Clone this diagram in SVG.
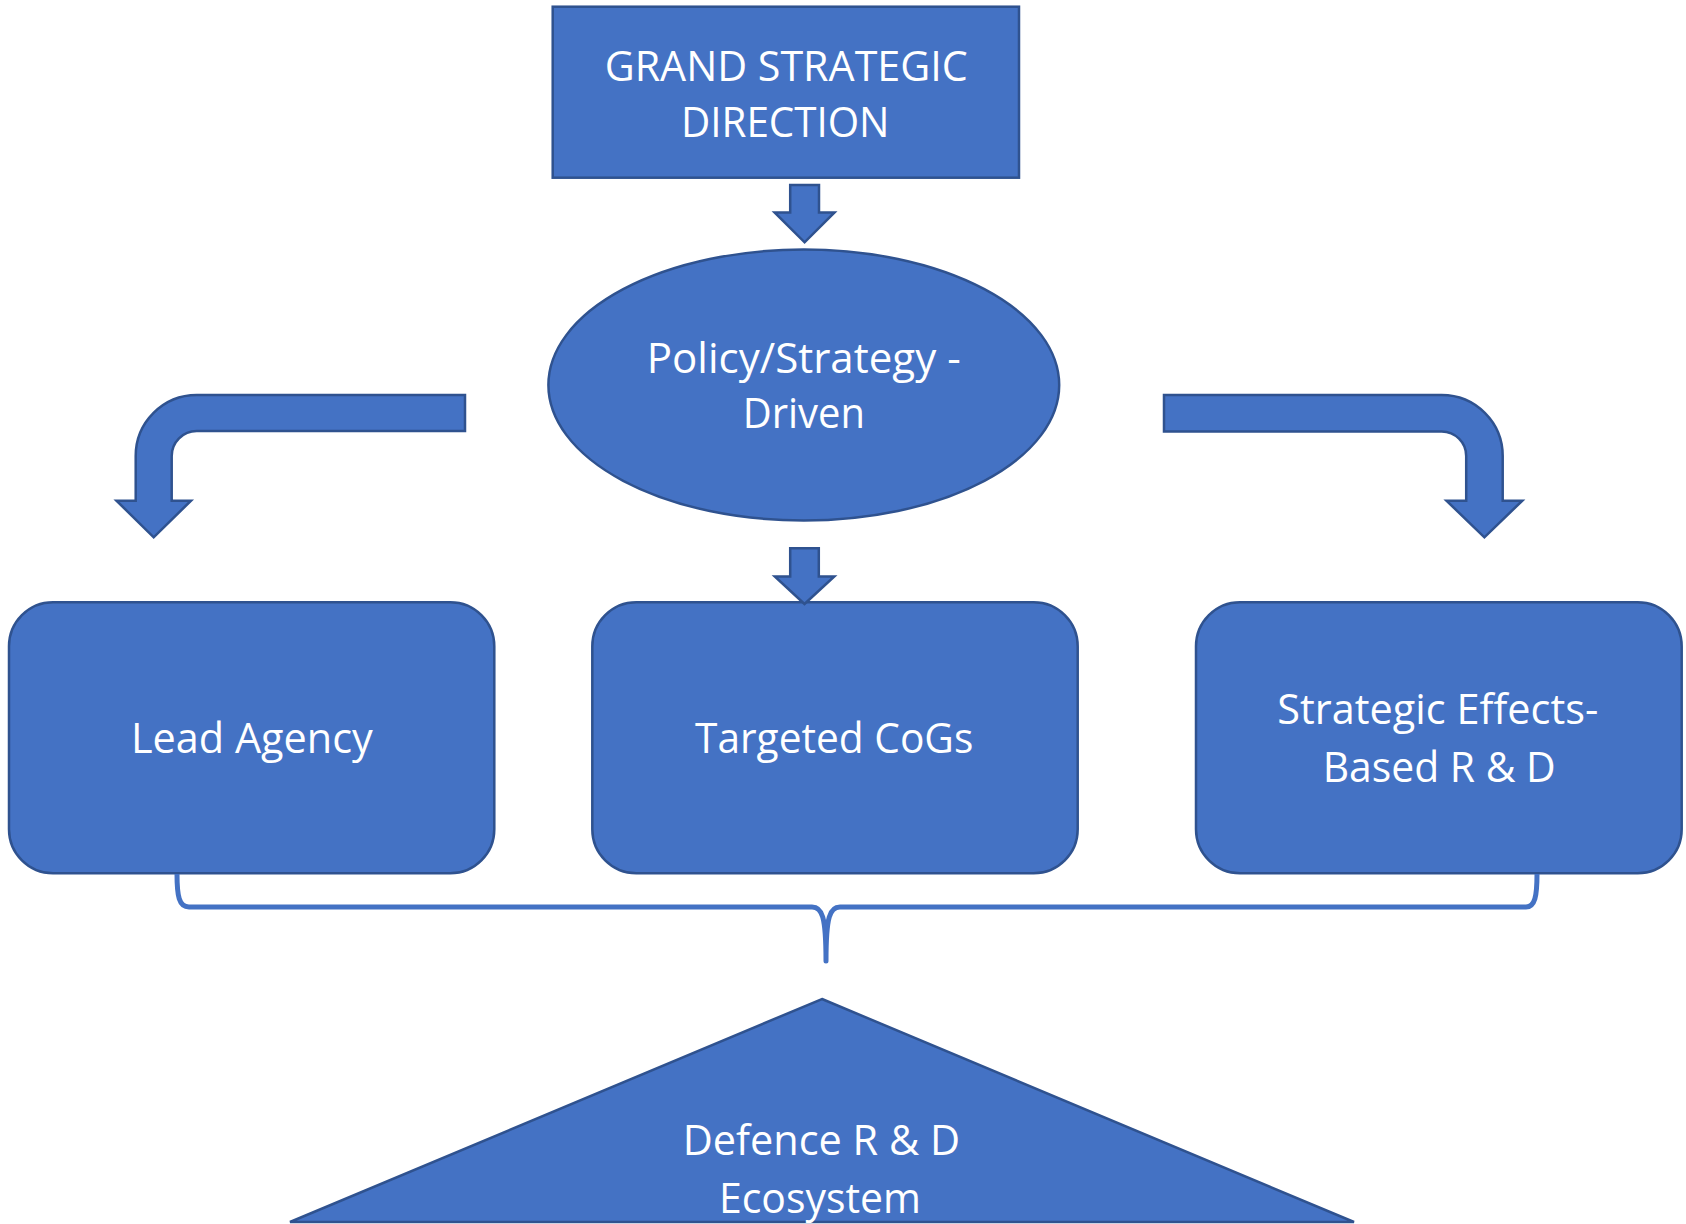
<svg xmlns="http://www.w3.org/2000/svg" width="1686" height="1224" viewBox="0 0 1686 1224">
<style>
.shape{fill:#4472C4;stroke:#2F528F;stroke-width:2.5;stroke-linejoin:miter}
.lbl{fill:#FFFFFF;font-family:"Open Sans","Noto Sans","Liberation Sans",sans-serif;font-size:42px}
.brace{fill:none;stroke:#4472C4;stroke-width:5;stroke-linecap:butt;stroke-linejoin:round}
</style>
<rect width="1686" height="1224" fill="#FFFFFF"/>
<g id="grand-strategic-direction">
<rect class="shape" x="552.7" y="6.7" width="466.3" height="171"/>
<text class="lbl" x="604.7" y="81" textLength="363" lengthAdjust="spacingAndGlyphs">GRAND STRATEGIC</text>
<text class="lbl" x="681" y="136.7" textLength="208.5" lengthAdjust="spacingAndGlyphs">DIRECTION</text>
</g>
<g id="policy-strategy-driven">
<ellipse class="shape" cx="803.8" cy="385" rx="255.4" ry="135.5"/>
<text class="lbl" x="646.7" y="372.7" textLength="314" lengthAdjust="spacingAndGlyphs">Policy/Strategy -</text>
<text class="lbl" x="742.7" y="428.3" textLength="122.3" lengthAdjust="spacingAndGlyphs">Driven</text>
</g>
<g id="lead-agency">
<rect class="shape" x="9" y="602.3" width="485.3" height="271" rx="44" ry="44"/>
<text class="lbl" x="131" y="753.3" textLength="241.7" lengthAdjust="spacingAndGlyphs">Lead Agency</text>
</g>
<g id="targeted-cogs">
<rect class="shape" x="592.3" y="602.3" width="485.4" height="271" rx="44" ry="44"/>
<text class="lbl" x="695" y="753.3" textLength="278.3" lengthAdjust="spacingAndGlyphs">Targeted CoGs</text>
</g>
<g id="strategic-effects-based">
<rect class="shape" x="1196" y="602.3" width="485.7" height="271" rx="44" ry="44"/>
<text class="lbl" x="1277.3" y="724.3" textLength="321" lengthAdjust="spacingAndGlyphs">Strategic Effects-</text>
<text class="lbl" x="1322.7" y="781.7" textLength="233" lengthAdjust="spacingAndGlyphs">Based R &amp; D</text>
</g>
<g id="defence-ecosystem">
<polygon class="shape" points="822,999 1354,1222 290,1222"/>
<text class="lbl" x="682.7" y="1155" textLength="277.3" lengthAdjust="spacingAndGlyphs">Defence R &amp; D</text>
<text class="lbl" x="719" y="1213" textLength="202" lengthAdjust="spacingAndGlyphs">Ecosystem</text>
</g>
<g id="connectors">
<path class="shape" d="M790.2,185 L819,185 L819,212.5 L834.5,212.5 L804.6,242.3 L774.6,212.5 L790.2,212.5 Z"/>
<path class="shape" d="M465,395 L196.7,395 A61,61 0 0 0 135.7,456 L135.7,500.7 L116.5,500.7 L153.7,537.3 L191,500.7 L171.7,500.7 L171.7,456 A25,25 0 0 1 196.7,431 L465,431 Z"/>
<path class="shape" d="M1164,395 L1441.7,395 A61,61 0 0 1 1502.7,456 L1502.7,500.7 L1522.3,500.7 L1484.4,537.3 L1446.5,500.7 L1466.2,500.7 L1466.2,456 A24.5,24.5 0 0 0 1441.7,431.5 L1164,431.5 Z"/>
<path class="shape" d="M790.2,548.3 L818.8,548.3 L818.8,576.5 L834.3,576.5 L804.5,604 L774.8,576.5 L790.2,576.5 Z"/>
<path class="brace" d="M177,874 C177,896 179,907 189,907 L812,907 C822,907 826,916 826,961 C826,916 830,907 840,907 L1526,907 C1535,907 1537,896 1537,874"/>
</g>
</svg>
